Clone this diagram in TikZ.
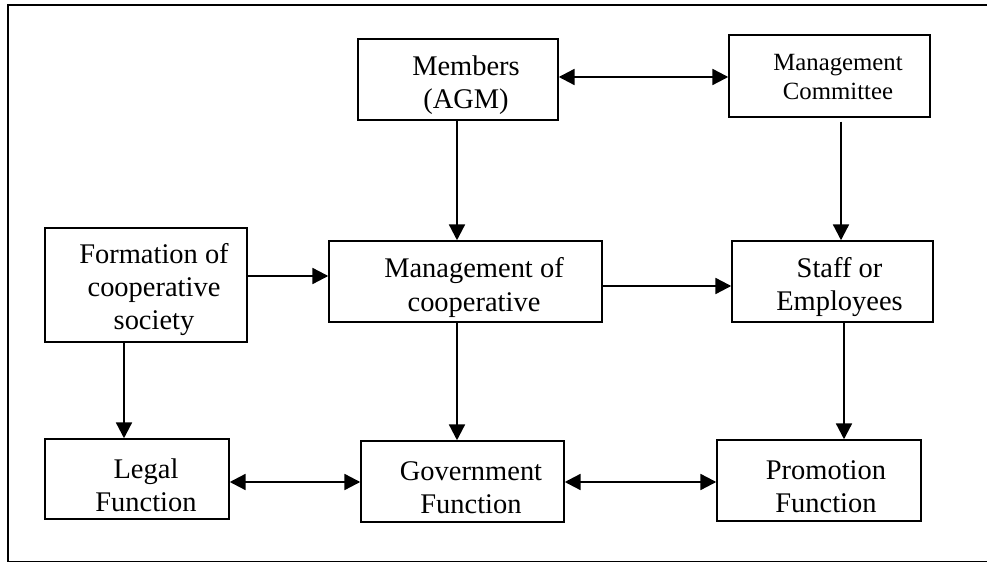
\documentclass[tikz,border=0pt]{standalone}
\usepackage{fontspec}
\setmainfont{Liberation Serif}
\usetikzlibrary{arrows.meta}
\begin{document}
\begin{tikzpicture}[x=0.02cm,y=-0.02cm,
  box/.style={draw,line width=0.85pt,inner sep=0pt},
  txt/.style={inner sep=0pt,align=center,font=\fontsize{16.2}{18.8}\selectfont},
  stxt/.style={inner sep=0pt,align=center,font=\fontsize{14.1}{16.4}\selectfont},
  arr/.style={line width=1.3pt,-{Triangle[length=9pt,width=9pt]}},
  darr/.style={line width=1.3pt,{Triangle[length=9pt,width=9pt]}-{Triangle[length=9pt,width=9pt]}}]
\useasboundingbox (0,0) rectangle (987,563);
\draw[line width=0.7pt] (990,5) -- (8,5) -- (8,561.5) -- (990,561.5);
% boxes
\node[box,minimum width=4cm,minimum height=1.62cm] (mem) at (458,79.5) {};
\node[box,minimum width=4.02cm,minimum height=1.64cm] (mc) at (829.5,76) {};
\node[box,minimum width=4.04cm,minimum height=2.28cm] (form) at (146,285) {};
\node[box,minimum width=5.46cm,minimum height=1.62cm] (mgmt) at (465.5,281.5) {};
\node[box,minimum width=4.02cm,minimum height=1.62cm] (staff) at (832.5,281.5) {};
\node[box,minimum width=3.68cm,minimum height=1.6cm] (legal) at (137,479) {};
\node[box,minimum width=4.06cm,minimum height=1.62cm] (gov) at (462.5,481.5) {};
\node[box,minimum width=4.08cm,minimum height=1.62cm] (prom) at (819,480.5) {};
% texts
\node[txt] (memt) at ([shift={(8,6)}]mem.center) {Members\\(AGM)};
\node[stxt] (mct) at ([shift={(8.5,1)}]mc.center) {Management\\Committee};
\node[txt] (formt) at ([shift={(8,5)}]form.center) {Formation of\\cooperative\\society};
\node[txt] (mgmtt) at ([shift={(8.5,6)}]mgmt.center) {Management of\\cooperative};
\node[txt] (stafft) at ([shift={(7,6)}]staff.center) {Staff or\\Employees};
\node[txt] (legalt) at ([shift={(9,6)}]legal.center) {Legal\\Function};
\node[txt] (govt) at ([shift={(8.5,6)}]gov.center) {Government\\Function};
\node[txt] (promt) at ([shift={(7,6)}]prom.center) {Promotion\\Function};
% connectors
\draw[darr] (mem.east) ++(0,-2.5) coordinate (a1) -- (a1 -| mc.west);
\draw[arr] (mem.south) ++(-1,0) coordinate (a2) -- (a2 |- mgmt.north);
\draw[arr] (mc.south) ++(11.5,4) coordinate (a3) -- (a3 |- staff.north);
\draw[arr] (form.east) ++(0,-9) coordinate (a4) -- (a4 -| mgmt.west);
\draw[arr] (mgmt.east) ++(0,4.5) coordinate (a5) -- (a5 -| staff.west);
\draw[arr] (form.south) ++(-22,0) coordinate (a6) -- (a6 |- legal.north);
\draw[arr] (mgmt.south) ++(-8.5,0) coordinate (a7) -- (a7 |- gov.north);
\draw[arr] (staff.south) ++(11.5,0) coordinate (a8) -- (a8 |- prom.north);
\draw[darr] (legal.east) ++(0,3) coordinate (a9) -- (a9 -| gov.west);
\draw[darr] (gov.east) ++(0,0.5) coordinate (a10) -- (a10 -| prom.west);
\end{tikzpicture}
\end{document}
